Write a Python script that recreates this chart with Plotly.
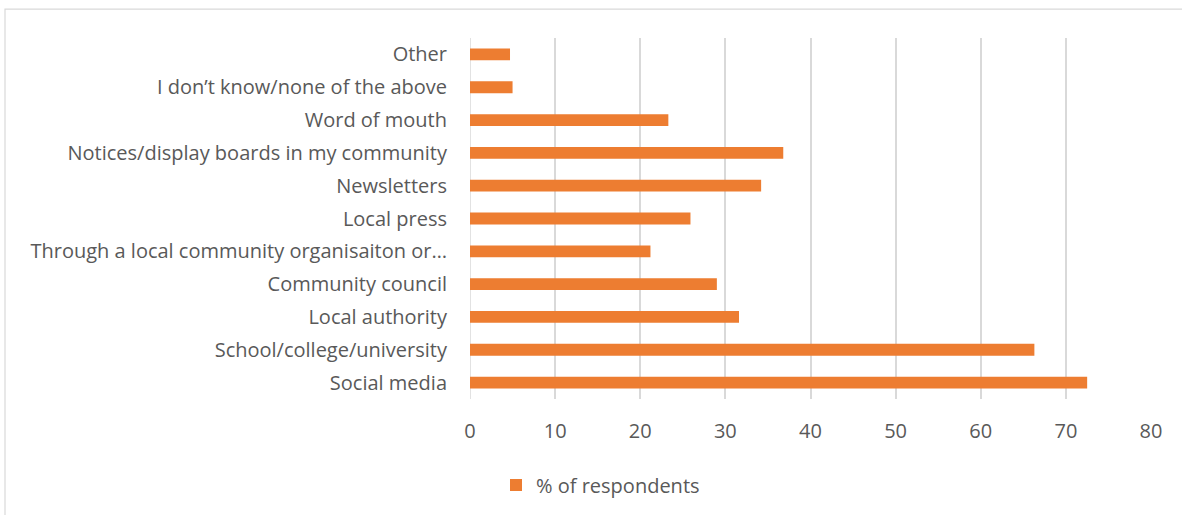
import plotly.graph_objects as go

# Sources of information, listed bottom-to-top as drawn on the y axis
categories = [
    "Social media",
    "School/college/university",
    "Local authority",
    "Community council",
    "Through a local community organisaiton or…",
    "Local press",
    "Newsletters",
    "Notices/display boards in my community",
    "Word of mouth",
    "I don’t know/none of the above",
    "Other",
]
respondents_pct = [72.5, 66.3, 31.6, 29.0, 21.2, 25.9, 34.2, 36.8, 23.3, 5.0, 4.7]
x_ticks = [0, 10, 20, 30, 40, 50, 60, 70, 80]

TEXT = "#595959"
GRID = "#d9d9d9"
ORANGE = "#ED7D31"
FONT = "'Open Sans', sans-serif"
FS = 20

fig = go.Figure()
fig.add_trace(go.Bar(
    x=respondents_pct,
    y=categories,
    orientation="h",
    name="% of respondents",
    marker=dict(color=ORANGE, line=dict(width=0)),
))

W, H = 1182, 515
L, R, T, B = 470, 31, 38, 115
pw, ph = W - L - R, H - T - B

def px_x(p):
    return (p - L) / pw

def px_y(p):
    return (H - B - p) / ph

fig.update_layout(
    width=W, height=H,
    margin=dict(l=L, r=R, t=T, b=B),
    paper_bgcolor="white", plot_bgcolor="white",
    font=dict(family=FONT, size=FS, color=TEXT),
    bargap=0.64,
    showlegend=True,
    legend=dict(
        orientation="h",
        x=px_x(496), xanchor="left",
        y=px_y(485), yanchor="middle",
        font=dict(size=FS, color=TEXT),
        itemwidth=30,
    ),
    xaxis=dict(
        range=[0, 80],
        tickvals=x_ticks,
        showgrid=True, gridcolor=GRID, gridwidth=1.5,
        zeroline=False, showline=False,
        ticks="", ticklabelstandoff=18,
        tickfont=dict(size=FS, color=TEXT),
    ),
    yaxis=dict(
        categoryorder="array", categoryarray=categories,
        showgrid=False, zeroline=False, showline=False,
        ticks="", ticklabelstandoff=22,
        tickfont=dict(size=FS, color=TEXT),
    ),
    shapes=[
        dict(
            type="rect", xref="paper", yref="paper",
            x0=px_x(5), x1=px_x(1190), y0=px_y(530), y1=px_y(9),
            line=dict(color="#d9d9d9", width=1.2),
            fillcolor="rgba(0,0,0,0)", layer="below",
        ),
        dict(
            type="line", xref="x", yref="paper",
            x0=0, x1=0, y0=0, y1=1,
            line=dict(color=GRID, width=1.5), layer="below",
        ),
    ],
)

fig.write_html("out.html")
